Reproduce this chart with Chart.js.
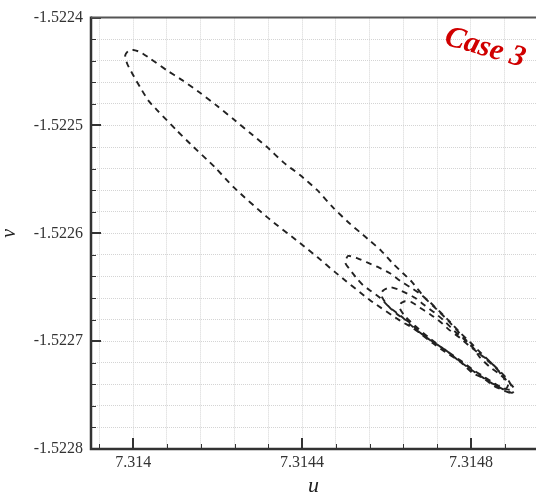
<!DOCTYPE html>
<html>
<head>
<meta charset="utf-8">
<script src="https://cdn.jsdelivr.net/npm/chart.js@4.4.0/dist/chart.umd.min.js"></script>
<style>
  html, body { margin: 0; padding: 0; background: #fff; }
</style>
</head>
<body>
<canvas id="phaseChart" width="536" height="497"></canvas>
<script>
// trajectory in the (u, v) plane
const loop1U = [7.314892, 7.314873, 7.314852, 7.314828, 7.314805, 7.314774, 7.314739, 7.314710, 7.314663, 7.314632,
  7.314561, 7.314478, 7.314436, 7.314395, 7.314317, 7.314237, 7.314194, 7.314135, 7.314104, 7.314057,
  7.314036, 7.314017, 7.313998, 7.313986, 7.313981, 7.313988,
  7.314000, 7.314017, 7.314040, 7.314080, 7.314116, 7.314159, 7.314199, 7.314237, 7.314277, 7.314317,
  7.314355, 7.314395, 7.314436, 7.314473, 7.314510, 7.314537, 7.314561, 7.314587, 7.314615, 7.314639,
  7.314660, 7.314691, 7.314720, 7.314746, 7.314781, 7.314805, 7.314821, 7.314845, 7.314869, 7.314892, 7.314904];
const loop1V = [-1.522748, -1.522745, -1.522741, -1.522734, -1.522730, -1.522719, -1.522710, -1.522702, -1.522688, -1.522681,
  -1.522662, -1.522636, -1.522622, -1.522609, -1.522585, -1.522557, -1.522539, -1.522517, -1.522505, -1.522486,
  -1.522477, -1.522465, -1.522452, -1.522443, -1.522435, -1.522431,
  -1.522430, -1.522432, -1.522438, -1.522449, -1.522458, -1.522470, -1.522482, -1.522494, -1.522507, -1.522520,
  -1.522534, -1.522546, -1.522560, -1.522576, -1.522590, -1.522599, -1.522607, -1.522616, -1.522628, -1.522637,
  -1.522645, -1.522660, -1.522671, -1.522681, -1.522696, -1.522706, -1.522715, -1.522724, -1.522731, -1.522739, -1.522745];

const loop2U = [7.314897, 7.314873, 7.314845, 7.314810, 7.314774, 7.314739, 7.314703, 7.314663, 7.314632, 7.314608,
  7.314585, 7.314561, 7.314544, 7.314530, 7.314514, 7.314502, 7.314509,
  7.314530, 7.314554, 7.314578, 7.314608, 7.314632, 7.314656, 7.314679, 7.314703, 7.314727, 7.314750,
  7.314774, 7.314798, 7.314821, 7.314845, 7.314869, 7.314888, 7.314897];
const loop2V = [-1.522748, -1.522744, -1.522738, -1.522729, -1.522719, -1.522708, -1.522699, -1.522687, -1.522676, -1.522669,
  -1.522660, -1.522653, -1.522648, -1.522642, -1.522634, -1.522627, -1.522621,
  -1.522623, -1.522627, -1.522631, -1.522637, -1.522644, -1.522650, -1.522656, -1.522664, -1.522673, -1.522682,
  -1.522692, -1.522701, -1.522710, -1.522719, -1.522728, -1.522736, -1.522743];

const loop3U = [7.314892, 7.314869, 7.314840, 7.314810, 7.314779, 7.314746, 7.314715, 7.314679, 7.314656, 7.314632,
  7.314613, 7.314597, 7.314587, 7.314592,
  7.314608, 7.314627, 7.314649, 7.314668, 7.314691, 7.314715, 7.314739, 7.314762, 7.314786, 7.314810,
  7.314833, 7.314857, 7.314876, 7.314888];
const loop3V = [-1.522745, -1.522743, -1.522736, -1.522728, -1.522719, -1.522710, -1.522702, -1.522692, -1.522683, -1.522677,
  -1.522671, -1.522664, -1.522657, -1.522653,
  -1.522650, -1.522652, -1.522656, -1.522660, -1.522667, -1.522674, -1.522682, -1.522691, -1.522699, -1.522708,
  -1.522716, -1.522724, -1.522732, -1.522740];

const loop4U = [7.314883, 7.314859, 7.314831, 7.314798, 7.314765, 7.314731, 7.314698, 7.314668, 7.314644, 7.314632, 7.314634,
  7.314644, 7.314660, 7.314679, 7.314703, 7.314727, 7.314750, 7.314774, 7.314798, 7.314821, 7.314845, 7.314864, 7.314880];
const loop4V = [-1.522744, -1.522740, -1.522733, -1.522725, -1.522716, -1.522706, -1.522696, -1.522686, -1.522677, -1.522670, -1.522665,
  -1.522663, -1.522664, -1.522669, -1.522675, -1.522682, -1.522690, -1.522697, -1.522705, -1.522712, -1.522719, -1.522727, -1.522736];

// axes
const xGrid = [7.31392, 7.314, 7.31408, 7.31416, 7.31424, 7.31432, 7.3144, 7.31448, 7.31456, 7.31464, 7.31472, 7.3148, 7.31488];
const xMajor = [7.314, 7.3144, 7.3148];
const xLabels = ['7.314', '7.3144', '7.3148'];
const yGrid = [-1.5228, -1.52278, -1.52276, -1.52274, -1.52272, -1.5227, -1.52268, -1.52266, -1.52264, -1.52262, -1.5226,
  -1.52258, -1.52256, -1.52254, -1.52252, -1.5225, -1.52248, -1.52246, -1.52244, -1.52242, -1.5224];
const yMajor = [-1.5228, -1.5227, -1.5226, -1.5225, -1.5224];
const yLabels = ['-1.5228', '-1.5227', '-1.5226', '-1.5225', '-1.5224'];

const serif = "'Liberation Serif', 'Times New Roman', serif";

function majorIndex(v, list) {
  for (let i = 0; i < list.length; i++) {
    if (Math.abs(v - list[i]) < 1e-9) return i;
  }
  return -1;
}

const allU = loop1U.concat(loop2U, loop3U, loop4U);
const allV = loop1V.concat(loop2V, loop3V, loop4V);
const points = allU.map((u, i) => ({ x: u, y: allV[i] }));

// frame, inward tick marks and the "Case 3" tag
const frameTicks = {
  id: 'frameTicks',
  afterDraw(chart) {
    const { ctx, chartArea: a, scales: { x, y } } = chart;
    ctx.save();
    ctx.strokeStyle = '#333';
    xGrid.forEach(v => {
      const px = Math.round(x.getPixelForValue(v));
      const major = majorIndex(v, xMajor) >= 0;
      ctx.lineWidth = major ? 2 : 1;
      ctx.beginPath();
      ctx.moveTo(px + (major ? 0 : 0.5), a.bottom);
      ctx.lineTo(px + (major ? 0 : 0.5), a.bottom - (major ? 11 : 5));
      ctx.stroke();
    });
    yGrid.forEach(v => {
      const py = Math.round(y.getPixelForValue(v));
      const major = majorIndex(v, yMajor) >= 0;
      ctx.lineWidth = major ? 2 : 1;
      ctx.beginPath();
      ctx.moveTo(a.left, py + (major ? 0 : 0.5));
      ctx.lineTo(a.left + (major ? 10 : 5), py + (major ? 0 : 0.5));
      ctx.stroke();
    });
    // axis lines
    ctx.lineWidth = 2.5;
    ctx.strokeStyle = '#333';
    ctx.beginPath();
    ctx.moveTo(a.left, a.top - 1);
    ctx.lineTo(a.left, a.bottom);
    ctx.lineTo(a.right, a.bottom);
    ctx.stroke();
    ctx.lineWidth = 2;
    ctx.strokeStyle = '#555';
    ctx.beginPath();
    ctx.moveTo(a.left, a.top);
    ctx.lineTo(a.right, a.top);
    ctx.stroke();
    // tag
    ctx.translate(485, 48);
    ctx.rotate(16 * Math.PI / 180);
    ctx.fillStyle = '#d00000';
    ctx.font = 'italic bold 30px ' + serif;
    ctx.textAlign = 'center';
    ctx.textBaseline = 'middle';
    ctx.fillText('Case 3', 0, 0);
    ctx.restore();
  }
};

new Chart(document.getElementById('phaseChart'), {
  type: 'scatter',
  data: {
    datasets: [{
      data: points,
      showLine: true,
      borderColor: '#222',
      borderWidth: 1.9,
      borderDash: [6, 5],
      tension: 0.2,
      pointRadius: 0,
      fill: false
    }]
  },
  options: {
    responsive: false,
    animation: false,
    layout: { padding: { top: 17, right: 0, left: 0, bottom: 0 } },
    plugins: { legend: { display: false }, tooltip: { enabled: false } },
    scales: {
      x: {
        type: 'linear',
        min: 7.3139,
        max: 7.314954,
        afterBuildTicks: s => { s.ticks = xGrid.map(v => ({ value: v })); },
        afterFit: s => { s.height = 48; },
        grid: { color: '#d4d4d4', lineWidth: 1, drawTicks: false },
        border: { display: false, dash: [1, 1] },
        ticks: {
          autoSkip: false,
          maxRotation: 0,
          padding: 4,
          color: '#333',
          font: { family: serif, size: 16 },
          callback: v => { const i = majorIndex(v, xMajor); return i >= 0 ? xLabels[i] : ''; }
        },
        title: {
          display: true,
          text: 'u',
          color: '#222',
          padding: 0,
          font: { family: serif, size: 22, style: 'italic', lineHeight: 1 }
        }
      },
      y: {
        type: 'linear',
        min: -1.5228,
        max: -1.5224,
        afterBuildTicks: s => { s.ticks = yGrid.map(v => ({ value: v })); },
        afterFit: s => { s.width = 91; },
        grid: { color: '#d4d4d4', lineWidth: 1, drawTicks: false },
        border: { display: false, dash: [1, 1] },
        ticks: {
          autoSkip: false,
          padding: 8,
          color: '#333',
          font: { family: serif, size: 16 },
          callback: v => { const i = majorIndex(v, yMajor); return i >= 0 ? yLabels[i] : ''; }
        },
        title: {
          display: true,
          text: 'v',
          color: '#222',
          padding: 0,
          font: { family: serif, size: 20, style: 'italic', lineHeight: 1 }
        }
      }
    }
  },
  plugins: [frameTicks]
});
</script>
</body>
</html>
